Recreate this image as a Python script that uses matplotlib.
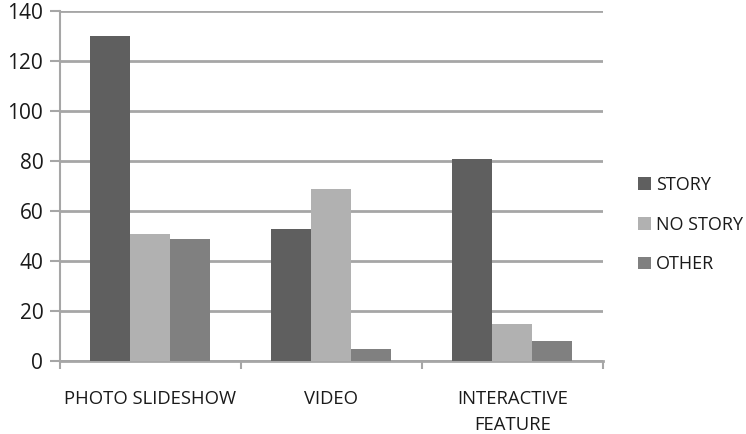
import numpy as np
import matplotlib
matplotlib.use("Agg")
import matplotlib.pyplot as plt

categories = ['PHOTO SLIDESHOW', 'VIDEO', 'INTERACTIVE\nFEATURE']
series_names = ['STORY', 'NO STORY', 'OTHER']
story = [130, 53, 81]
no_story = [51, 69, 15]
other = [49, 5, 8]
y_ticks = [0, 20, 40, 60, 80, 100, 120, 140]

plt.rcParams['font.family'] = ['Open Sans', 'DejaVu Sans']

colors = ['#5f5f5f', '#b1b1b1', '#808080']
grid_color = '#a6a6a6'

fig = plt.figure(figsize=(7.46, 4.34), dpi=100)
ax = fig.add_axes([0.0804, 0.168, 0.7279, 0.8067])

x = np.arange(len(categories))
width = 0.221
for i, (name, vals) in enumerate(zip(series_names, [story, no_story, other])):
    ax.bar(x + (i - 1) * width, vals, width, color=colors[i], label=name,
           zorder=3, linewidth=0)

ax.set_xlim(-0.5, len(categories) - 0.5)
ax.set_ylim(0, 140)
ax.set_yticks(y_ticks)
ax.yaxis.grid(True, color=grid_color, linewidth=2.0, zorder=0)
ax.set_axisbelow(True)

for side in ['top', 'right']:
    ax.spines[side].set_visible(False)
ax.spines['left'].set_color(grid_color)
ax.spines['left'].set_linewidth(1.5)
ax.spines['bottom'].set_color(grid_color)
ax.spines['bottom'].set_linewidth(2.0)

# category boundaries carry the ticks, labels sit between them
ax.set_xticks(np.arange(len(categories) + 1) - 0.5)
ax.set_xticklabels([])
ax.set_xticks(x, minor=True)
ax.set_xticklabels(categories, minor=True, fontsize=13.3, color='#1a1a1a',
                   linespacing=1.55)
ax.tick_params(axis='x', which='major', length=6, width=1.5, color=grid_color,
               direction='out')
ax.tick_params(axis='x', which='minor', length=0, pad=21)
ax.tick_params(axis='y', length=7, width=1.5, color=grid_color, labelsize=15,
               labelcolor='#1a1a1a', pad=5)

ax.legend(loc='center left', bbox_to_anchor=(1.035, 0.39), frameon=False,
          fontsize=13, handlelength=0.7, handleheight=0.7,
          handletextpad=0.3, labelspacing=1.2, labelcolor='#1a1a1a')

plt.savefig('out.png', dpi=100)
